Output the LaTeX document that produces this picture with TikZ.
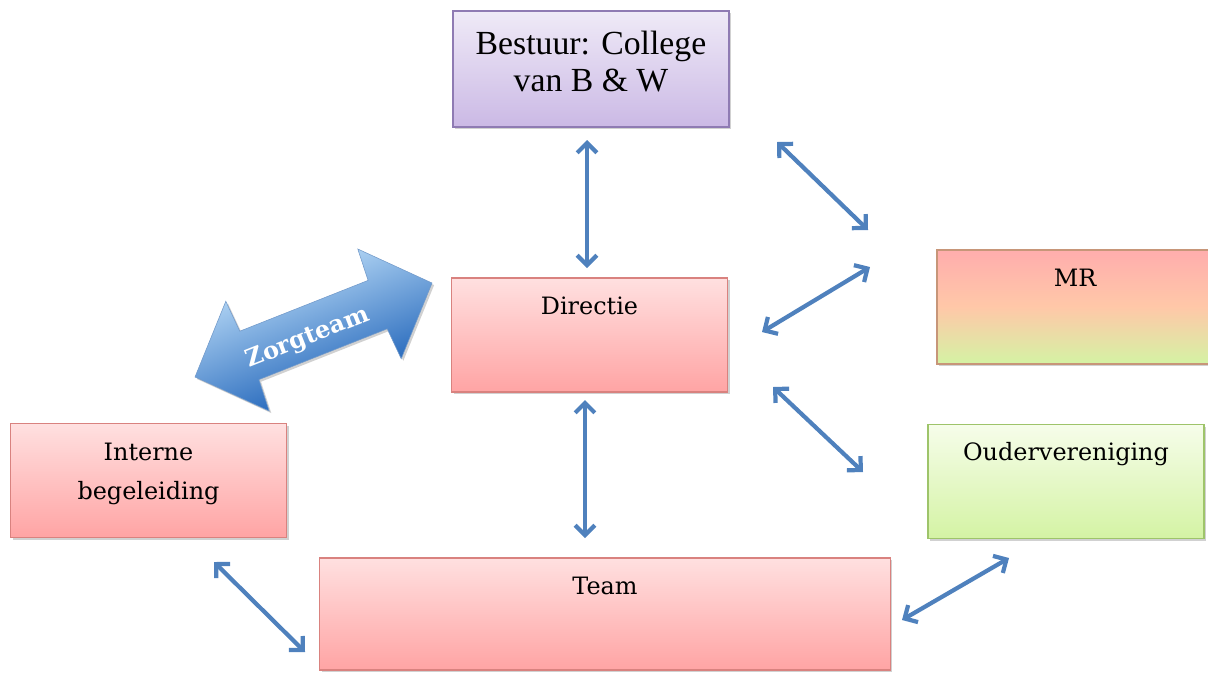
\documentclass[tikz,border=0pt]{standalone}
\usepackage{fontspec}
\setmainfont{DejaVu Serif}
\newfontfamily\titlefont{Liberation Serif}
\usetikzlibrary{arrows.meta, positioning, shadows}
\definecolor{linkblue}{HTML}{4F81BD}
\definecolor{pinktop}{HTML}{FFE0E0}
\definecolor{pinkbot}{HTML}{FFA4A4}
\definecolor{pinkline}{HTML}{D9827F}
\definecolor{lilatop}{HTML}{EFEAF7}
\definecolor{lilabot}{HTML}{CBB9E5}
\definecolor{lilaline}{HTML}{8F7BB3}
\definecolor{greentop}{HTML}{F6FDEA}
\definecolor{greenbot}{HTML}{D4F3A4}
\definecolor{greenline}{HTML}{9EC46A}
\definecolor{zorglight}{HTML}{CDEAFF}
\definecolor{zorgdark}{HTML}{0952B0}

\begin{document}
\begin{tikzpicture}[x=0.025cm, y=-0.025cm,
  orgbox/.style={rectangle, draw=#1, line width=0.8pt, inner sep=0pt,
    minimum width=6.9cm, minimum height=2.85cm,
    drop shadow={shadow xshift=1.5pt, shadow yshift=-1.5pt, opacity=0.3, fill=black!60}},
  pinkbox/.style={orgbox=pinkline, top color=pinktop, bottom color=pinkbot},
  boxtext/.style={font=\fontsize{17}{28}\selectfont, align=center, anchor=base, inner sep=0pt, yshift=-0.925cm},
  link/.style={draw=linkblue, line width=3pt, line cap=round, line join=round,
    {Straight Barb[length=7pt, width=14pt]}-{Straight Barb[length=7pt, width=14pt]}}]
  \useasboundingbox (0,0) rectangle (1208,673);

  % boxes
  \node[orgbox=lilaline, top color=lilatop, bottom color=lilabot, minimum height=2.9cm,
    label={[font=\titlefont\fontsize{24}{26.5}\selectfont, align=center, anchor=base, inner sep=0pt, yshift=-2.025cm]north:Bestuur: College\\van B \& W}]
    (bestuur) at (591,69) {};
  \node[pinkbox, label={[boxtext]north:Directie}] (directie) at (589.5,335) {};
  \node[orgbox=pinkline!70!greenline, top color=pinkbot!90, bottom color=greenbot, middle color=orange!25!pinktop,
    label={[boxtext]north:MR}] (mr) at (1075,307) {};
  \node[orgbox=greenline, top color=greentop, bottom color=greenbot,
    label={[boxtext]north:Oudervereniging}] (ouders) at (1066,481.5) {};
  \node[pinkbox, label={[boxtext, yshift=-1cm]north:Interne\\begeleiding}] (ib) at (148.5,480.5) {};
  \node[pinkbox, minimum width=14.25cm, minimum height=2.8cm,
    label={[boxtext]north:Team}] (team) at (605,614) {};

  % end points of the connectors
  \coordinate (bd1) at (587,140);  \coordinate (bd2) at (587,268);
  \coordinate (dt1) at (585,400);  \coordinate (dt2) at (585,538);
  \coordinate (bm1) at (777,142);  \coordinate (bm2) at (868,230);
  \coordinate (dm1) at (762,332);  \coordinate (dm2) at (870,267);
  \coordinate (do1) at (773,387);  \coordinate (do2) at (863,472);
  \coordinate (it1) at (214,562);  \coordinate (it2) at (305,652);
  \coordinate (to1) at (902,620);  \coordinate (to2) at (1009,558);

  \draw[link] (bd1) -- (bd2);
  \draw[link] (dt1) -- (dt2);
  \draw[link] (bm1) -- (bm2);
  \draw[link] (dm1) -- (dm2);
  \draw[link] (do1) -- (do2);
  \draw[link] (it1) -- (it2);
  \draw[link] (to1) -- (to2);

  % Zorgteam block arrow
  \path[draw=linkblue!80, line width=0.4pt, top color=zorglight, bottom color=zorgdark, shading angle=21.6,
    drop shadow={shadow xshift=1.5pt, shadow yshift=-1.5pt, opacity=0.3, fill=black!60}]
    (195,377) -- (225.8,301.3) -- (239.8,331.2) -- (368.1,280.4) -- (357.8,249)
    -- (432,283) -- (401.2,358.7) -- (387.2,328.8) -- (258.9,379.6) -- (269.2,411) -- cycle;
  \node[rotate=21.6, text=white, font=\bfseries\fontsize{17}{20}\selectfont, inner sep=0pt]
    (zorg) at (308,338) {Zorgteam};
\end{tikzpicture}
\end{document}
